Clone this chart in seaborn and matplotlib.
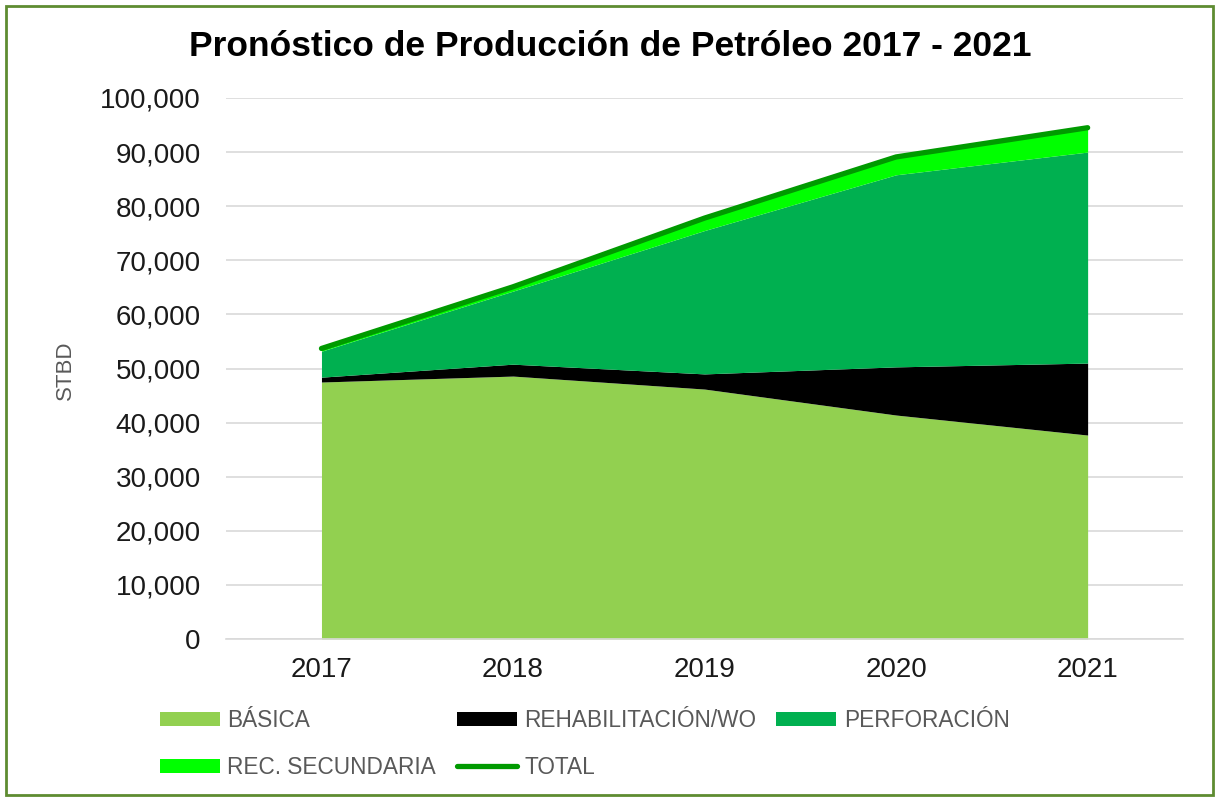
import matplotlib
matplotlib.use("Agg")
import matplotlib.pyplot as plt
from matplotlib.patches import Rectangle, Patch
from matplotlib.lines import Line2D
from matplotlib.ticker import FuncFormatter
import pandas as pd
import seaborn as sns

years = [2017, 2018, 2019, 2020, 2021]
basica = [47500, 48600, 46200, 41400, 37700]
rehabilitacion = [900, 2200, 2800, 8900, 13300]
perforacion = [4800, 13500, 26500, 35500, 39000]
rec_secundaria = [500, 800, 2300, 3300, 4500]
total = [53700, 65100, 77800, 89100, 94500]

series_names = ["BÁSICA", "REHABILITACIÓN/WO", "PERFORACIÓN", "REC. SECUNDARIA"]
series_colors = ["#92D050", "#000000", "#00B050", "#00FF00"]
total_color = "#009A00"

sns.set_theme(style="white")
plt.rcParams["font.family"] = ["Liberation Sans", "DejaVu Sans"]

fig = plt.figure(figsize=(12.2, 8.01), dpi=100)
ax = fig.add_axes([0.185, 0.2022, 0.785, 0.6755])

ax.stackplot(years, basica, rehabilitacion, perforacion, rec_secundaria,
             colors=series_colors, linewidth=0, zorder=2)

# total line on top of the stacked areas
df_total = pd.DataFrame({"year": years, "total": total})
sns.lineplot(data=df_total, x="year", y="total", ax=ax, color=total_color,
             linewidth=3.8, solid_capstyle="round", zorder=3)

ax.set_xlim(2016.5, 2021.5)
ax.set_ylim(0, 100000)
ax.set_yticks(range(0, 100001, 10000))
ax.set_xticks(years)
ax.yaxis.set_major_formatter(FuncFormatter(lambda v, p: f"{v:,.0f}"))
ax.grid(axis="y", color="#D9D9D9", linewidth=1.2, zorder=0)
ax.set_axisbelow(True)
for s in ["top", "right", "left"]:
    ax.spines[s].set_visible(False)
ax.spines["bottom"].set_color("#D9D9D9")
ax.spines["bottom"].set_linewidth(1.2)
ax.tick_params(axis="y", labelsize=20, pad=18, length=0, colors="#1a1a1a")
ax.tick_params(axis="x", labelsize=20, pad=13, length=0, colors="#1a1a1a")
ax.set_xlabel("")
ax.set_ylabel("")

fig.text(65 / 1220, 1 - 370 / 801, "STBD", rotation=90, ha="center", va="center",
         fontsize=16, color="#595959")

fig.text(0.5, 1 - 47 / 801, "Pronóstico de Producción de Petróleo 2017 - 2021",
         ha="center", va="center", fontsize=25.5, fontweight="bold", color="#000000")

h = [Patch(facecolor=c, edgecolor="none") for c in series_colors]
h_total = Line2D([0], [0], color=total_color, linewidth=3.8, solid_capstyle="round")
handles = [h[0], h[3], h[1], h_total, h[2]]
labels = [series_names[0], series_names[3], series_names[1], "TOTAL", series_names[2]]
fig.legend(handles, labels, loc="upper left", bbox_to_anchor=(160 / 1220, 1 - 709 / 801),
           ncol=3, frameon=False, fontsize=16.3, labelcolor="#595959",
           handlelength=2.65, handleheight=0.55, handletextpad=0.33,
           columnspacing=0.9, labelspacing=1.05, borderpad=0, borderaxespad=0)

fig.patches.append(Rectangle((6 / 1220, 6 / 801), 1207 / 1220, 789 / 801,
                             transform=fig.transFigure, fill=False,
                             edgecolor="#5E8C31", linewidth=2))

fig.savefig("out.png", dpi=100)
